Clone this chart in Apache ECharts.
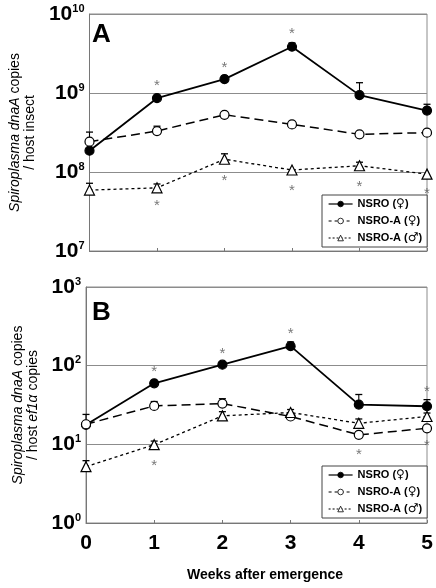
<!DOCTYPE html>
<html><head><meta charset="utf-8">
<script src="https://cdn.jsdelivr.net/npm/echarts@6/dist/echarts.min.js"></script>
<style>html,body{margin:0;padding:0;background:#fff}#c{width:436px;height:588px}</style>
</head><body><div id="c"></div>
<script>
const weeks = [0, 1, 2, 3, 4, 5];
const xTicks = ['0', '1', '2', '3', '4', '5'];
const seriesNames = ['NSRO (♀)', 'NSRO-A (♀)', 'NSRO-A (♂)'];

// Panel A: Spiroplasma dnaA copies / host insect
const aNSRO_F = [1.86e8, 8.6e8, 1.5e9, 3.85e9, 9.4e8, 6.0e8];
const aNSROA_F = [2.42e8, 3.3e8, 5.3e8, 4.0e8, 3.0e8, 3.15e8];
const aNSROA_M = [5.9e7, 6.3e7, 1.45e8, 1.06e8, 1.2e8, 9.4e7];
const aErr_NSRO_F = [null, 9.25e8, 1.64e9, 4.3e9, 1.35e9, 7.2e8];
const aErr_NSROA_F = [3.2e8, 3.8e8, null, null, null, null];
const aErr_NSROA_M = [7.2e7, 7.05e7, 1.7e8, null, 1.33e8, null];
const aStars = [[1, 1.39e9], [2, 2.33e9], [3, 6.3e9], [1, 4.2e7], [2, 8.8e7], [3, 6.5e7], [4, 7.3e7], [5, 6.0e7]];

// Panel B: Spiroplasma dnaA copies / host ef1α copies
const bNSRO_F = [17.7, 59.7, 103, 177, 32, 30.5];
const bNSROA_F = [18, 30.8, 33, 22.6, 13.2, 16];
const bNSROA_M = [5.2, 9.9, 23, 25.4, 18.5, 22.6];
const bErr_NSRO_F = [null, null, 111, 200, 43, 37];
const bErr_NSROA_F = [24, 35, 38, null, 14.4, null];
const bErr_NSROA_M = [6.2, 11, 26, 27.7, 21, 25];
const bStars = [[1, 92.5], [2, 157], [3, 282], [5, 51.6], [1, 6.0], [4, 8.15], [5, 10.6]];

const FONT = 'Liberation Sans, Arial, sans-serif';
const frame = '#8c8c8c';

function pts(vals) { return weeks.map((w, i) => [w, vals[i]]); }
function errPts(vals, errs) {
  const out = [];
  weeks.forEach((w, i) => { if (errs[i] != null) out.push([w, vals[i], errs[i]]); });
  return out;
}
const styles = [
  { symbol: 'circle', fill: '#000', type: 'solid', width: 1.8, legendType: 'solid' },
  { symbol: 'circle', fill: '#fff', type: [9, 5], width: 1.5, legendType: [3, 3] },
  { symbol: 'triangle', fill: '#fff', type: [3, 3], width: 1.3, legendType: [2, 2] }
];
function lineSeries(name, vals, idx, s) {
  return {
    type: 'line', name: name, xAxisIndex: idx, yAxisIndex: idx, data: pts(vals),
    symbol: s.symbol, symbolSize: s.symbol === 'triangle' ? 10 : 9, showSymbol: true,
    lineStyle: { color: '#000', width: s.width, type: s.type },
    itemStyle: { color: s.fill, borderColor: '#000', borderWidth: 1.2 },
    z: 3, animation: false
  };
}
function errSeries(vals, errs, idx) {
  return {
    type: 'custom', xAxisIndex: idx, yAxisIndex: idx, data: errPts(vals, errs), z: 2,
    encode: { x: 0, y: [1, 2] }, animation: false, silent: true,
    renderItem: function (params, api) {
      const x = api.value(0), v = api.value(1), u = api.value(2);
      const p0 = api.coord([x, v]), p1 = api.coord([x, u]);
      return { type: 'group', children: [
        { type: 'line', shape: { x1: p0[0], y1: p0[1], x2: p1[0], y2: p1[1] }, style: { stroke: '#000', lineWidth: 1.1 } },
        { type: 'line', shape: { x1: p1[0] - 3.5, y1: p1[1], x2: p1[0] + 3.5, y2: p1[1] }, style: { stroke: '#000', lineWidth: 1.3 } }
      ] };
    }
  };
}
function starSeries(data, idx) {
  return {
    type: 'scatter', xAxisIndex: idx, yAxisIndex: idx, data: data, symbolSize: 1,
    itemStyle: { color: 'rgba(0,0,0,0)' }, z: 4, animation: false, silent: true,
    label: { show: true, position: 'inside', formatter: '*', fontSize: 15, color: '#555', fontFamily: FONT, offset: [0, 4] }
  };
}
function yAxis(idx, min, max, name) {
  return {
    type: 'log', logBase: 10, gridIndex: idx, min: min, max: max,
    axisLine: { show: true, lineStyle: { color: '#777', width: 1 } },
    axisTick: { show: false },
    splitLine: { show: true, lineStyle: { color: frame, width: 1 } },
    minorTick: { show: false }, minorSplitLine: { show: false },
    axisLabel: {
      margin: 5,
      formatter: function (v) { const e = Math.round(Math.log10(v)); return '{b|10}{s|' + e + '}'; },
      rich: {
        b: { fontSize: 21, fontWeight: 'bold', fontFamily: FONT, color: '#000', lineHeight: 22 },
        s: { fontSize: 11, fontWeight: 'bold', fontFamily: FONT, color: '#000', verticalAlign: 'top', lineHeight: 22 }
      }
    },
    name: name, nameLocation: 'middle', nameGap: 43, nameRotate: 90,
    nameTextStyle: {
      fontFamily: FONT, fontSize: 14, color: '#000', lineHeight: 15,
      rich: { i: { fontStyle: 'italic', fontFamily: FONT, fontSize: 14, color: '#000', lineHeight: 15 },
              n: { fontFamily: FONT, fontSize: 14, color: '#000', lineHeight: 15 } }
    }
  };
}
function xAxis(idx, showLabels) {
  return {
    type: 'value', gridIndex: idx, min: 0, max: 5, interval: 1,
    axisLine: { show: true, lineStyle: { color: '#777', width: 1 } },
    axisTick: { show: true, inside: true, length: 3, lineStyle: { color: '#777' } },
    splitLine: { show: false },
    axisLabel: {
      show: showLabels, margin: 10, fontSize: 21, fontWeight: 'bold', fontFamily: FONT, color: '#000',
      formatter: function (v) { return xTicks[weeks.indexOf(v)]; }
    }
  };
}
function legend(top) {
  return {
    data: seriesNames.map((n, i) => ({
      name: n,
      lineStyle: { type: styles[i].legendType, width: 1.2, color: '#000' },
      itemStyle: { color: styles[i].fill, borderColor: '#000', borderWidth: 0.8 }
    })),
    orient: 'vertical', left: 322, top: top,
    backgroundColor: '#fff', borderColor: '#444', borderWidth: 1, borderRadius: 0,
    padding: [2, 5, 2, 6], itemGap: 3, itemWidth: 24, itemHeight: 7,
    formatter: function (name) {
      const m = name.match(/^(.*)\((.)\)$/);
      return '{t|' + m[1] + '(}{g|' + m[2] + '}{t|)}';
    },
    textStyle: {
      fontFamily: FONT, fontSize: 11, fontWeight: 'bold', color: '#000', lineHeight: 14,
      rich: {
        t: { fontFamily: FONT, fontSize: 11, fontWeight: 'bold', color: '#000', lineHeight: 14 },
        g: { fontFamily: 'DejaVu Sans', fontSize: 12, fontWeight: 'bold', color: '#000', lineHeight: 14 }
      }
    },
    selectedMode: false
  };
}

const chart = echarts.init(document.getElementById('c'), null, { renderer: 'canvas' });
chart.setOption({
  animation: false,
  backgroundColor: '#fff',
  title: [
    { text: 'A', left: 92, top: 22, padding: 0, textStyle: { fontFamily: FONT, fontSize: 26, fontWeight: 'bold', color: '#000' } },
    { text: 'B', left: 92, top: 300, padding: 0, textStyle: { fontFamily: FONT, fontSize: 26, fontWeight: 'bold', color: '#000' } }
  ],
  grid: [
    { left: 86, top: 14, width: 341, height: 237, show: true, borderColor: frame, borderWidth: 1, backgroundColor: 'transparent' },
    { left: 86, top: 287, width: 341, height: 236, show: true, borderColor: frame, borderWidth: 1, backgroundColor: 'transparent' }
  ],
  xAxis: [xAxis(0, false), xAxis(1, true)],
  yAxis: [
    yAxis(0, 1e7, 1e10, '{i|Spiroplasma} {i|dnaA} {n|copies}\n{n|/ host insect}'),
    yAxis(1, 1, 1e3, '{i|Spiroplasma} {i|dnaA} {n|copies}\n{n|/ host} {i|ef1α} {n|copies}')
  ],
  legend: [legend(195), legend(466)],
  graphic: [
    { type: 'text', left: 187, top: 568, style: { text: 'Weeks after emergence', font: 'bold 14px ' + FONT, fill: '#000' } }
  ],
  series: [
    errSeries(aNSRO_F, aErr_NSRO_F, 0),
    errSeries(aNSROA_F, aErr_NSROA_F, 0),
    errSeries(aNSROA_M, aErr_NSROA_M, 0),
    lineSeries(seriesNames[0], aNSRO_F, 0, styles[0]),
    lineSeries(seriesNames[1], aNSROA_F, 0, styles[1]),
    lineSeries(seriesNames[2], aNSROA_M, 0, styles[2]),
    starSeries(aStars, 0),
    errSeries(bNSRO_F, bErr_NSRO_F, 1),
    errSeries(bNSROA_F, bErr_NSROA_F, 1),
    errSeries(bNSROA_M, bErr_NSROA_M, 1),
    lineSeries(seriesNames[0], bNSRO_F, 1, styles[0]),
    lineSeries(seriesNames[1], bNSROA_F, 1, styles[1]),
    lineSeries(seriesNames[2], bNSROA_M, 1, styles[2]),
    starSeries(bStars, 1)
  ]
});
</script></body></html>
